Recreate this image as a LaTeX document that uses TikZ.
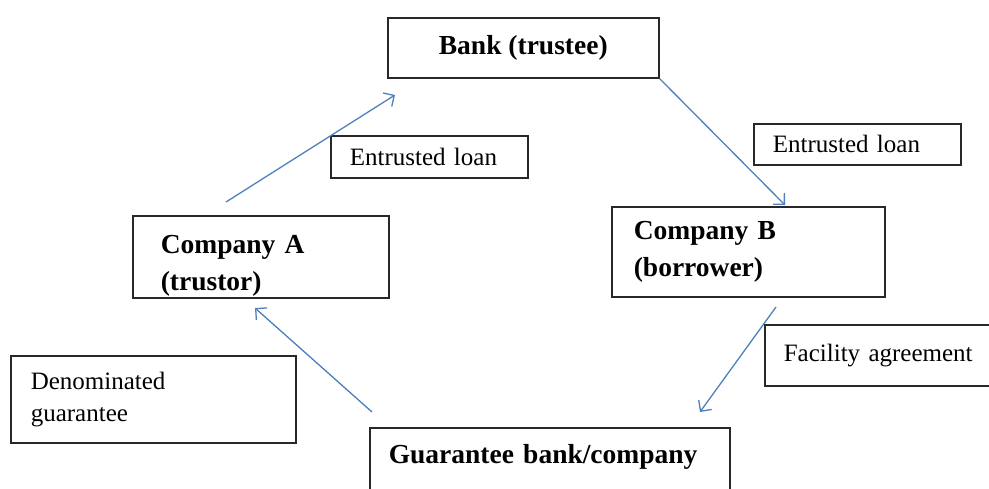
\documentclass[tikz,border=0pt]{standalone}
\usepackage{fontspec}
\setmainfont{Liberation Serif}
\usetikzlibrary{arrows.meta}
\definecolor{arrowblue}{RGB}{79,129,189}
\definecolor{boxline}{RGB}{40,40,40}
\begin{document}
\begin{tikzpicture}[x=1pt,y=-1pt,
 box/.style={draw=boxline, line width=1.6pt, rectangle, inner ysep=0pt, anchor=north west, align=left},
 bfont/.style={font=\fontsize{27.5}{37}\selectfont\bfseries},
 rfont/.style={font=\fontsize{25}{32}\selectfont},
 flow/.style={draw=arrowblue, line width=1.3pt, -{Straight Barb[length=8pt,width=16pt,line width=1.3pt]}}]
\clip (0,0) rectangle (989,488);
\fill[white] (0,0) rectangle (989,488);
% boxes
\node[box,bfont,align=center,inner xsep=0pt,minimum width=271pt,minimum height=60pt] (bank) at (387,17) {Bank (trustee)};
\node[box,bfont,text width=200pt,inner xsep=28pt,minimum height=82pt] (compa) at (132,215) {\rule{0pt}{37pt}Company A\\(trustor)};
\node[box,bfont,text width=229pt,inner xsep=22pt,minimum height=90pt] (compb) at (611,206) {Company B\\(borrower)};
\node[box,bfont,anchor=base west,inner xsep=19pt,text width=322pt,text height=35pt,text depth=45pt] (guar) at (369,463) {Guarantee bank/company};
\node[box,rfont,text width=159pt,inner xsep=19pt,minimum height=42pt] (loan1) at (330,135) {\mbox{Entrusted loan}};
\node[box,rfont,text width=169pt,inner xsep=19pt,minimum height=41pt] (loan2) at (753,123) {\mbox{Entrusted loan}};
\node[box,rfont,text width=188pt,inner xsep=19pt,minimum height=61pt] (facil) at (764,324) {\mbox{Facility agreement}};
\node[box,rfont,text width=245pt,inner xsep=20pt,minimum height=87pt] (denom) at (10,355) {Denominated\\guarantee};
% connector ends
\coordinate (a1) at (226,202);
\coordinate (a2) at (395,95);
\coordinate (b2) at (785,205);
\coordinate (c1) at (776,307);
\coordinate (c2) at (700,412);
\coordinate (d1) at (372,412);
\coordinate (d2) at (255,308);
% connectors
\draw[flow] (a1) -- (a2);
\draw[flow] (bank.south east) -- (b2);
\draw[flow] (c1) -- (c2);
\draw[flow] (d1) -- (d2);
\end{tikzpicture}
\end{document}
